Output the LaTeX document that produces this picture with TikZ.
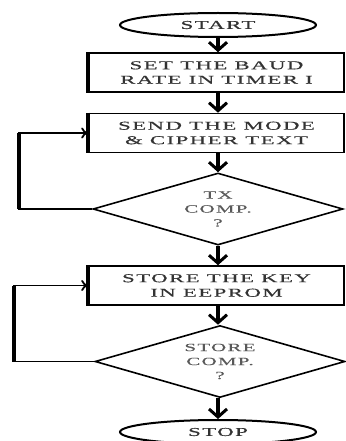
\documentclass[tikz,border=0pt]{standalone}
\usepackage{fontspec}
\setmainfont{Liberation Serif}
\newfontfamily\wfont[FakeStretch=1.9,LetterSpace=12,FakeBold=0.6]{Liberation Serif}
\newfontfamily\dfont[FakeStretch=1.9,LetterSpace=12,FakeBold=0.3]{Liberation Serif}
\usetikzlibrary{shapes.geometric,arrows.meta}
\begin{document}
\begin{tikzpicture}[x=1pt,y=-1pt,
  box/.style={draw,line width=1.6pt,minimum width=255pt,minimum height=39pt,inner sep=0pt,align=center,
    font=\wfont\fontsize{12}{14.5}\selectfont,text=black!80},
  term/.style={draw,ellipse,line width=2pt,minimum width=196pt,minimum height=24pt,inner sep=0pt,
    font=\wfont\fontsize{12}{14}\selectfont,text=black!80},
  decision/.style={draw,diamond,aspect=3.5,line width=1.6pt,minimum width=250pt,minimum height=72pt,
    inner sep=0pt,align=center,font=\dfont\fontsize{11}{14}\selectfont,text=black!65},
  flow/.style={line width=3.5pt,-{Straight Barb[length=8pt,width=18pt,line width=3pt]}},
  back/.style={line width=1.8pt,-{To[length=7pt,width=11pt]}},
  backv/.style={line width=4.5pt},
  edge/.style={line width=4pt}]
\useasboundingbox (0,0) rectangle (345,441);
\node[term] (start) at (218,25) {START};
\node[box] (b1) at (216.5,72.5) {SET THE BAUD\\RATE IN TIMER I};
\node[box] (b2) at (216.5,133) {SEND THE MODE\\\& CIPHER TEXT};
\node[decision] (d1) at (218,209) {TX\\COMP.\\?};
\node[box] (b3) at (216.5,285.5) {STORE THE KEY\\IN EEPROM};
\node[decision] (d2) at (220,361.5) {STORE\\COMP.\\?};
\node[term] (stop) at (218,432) {STOP};
\draw[edge] (b1.north west) -- (b1.south west);
\draw[edge] (b2.north west) -- (b2.south west);
\draw[edge] (b3.north west) -- (b3.south west);
\draw[flow] (start.south) -- (start.south |- b1.north);
\draw[flow] (b1.south -| start.south) -- (b2.north -| start.south);
\draw[flow] (b2.south -| start.south) -- (d1.north);
\draw[flow] (d1.south) -- (b3.north -| d1.south);
\draw[flow] (b3.south -| d1.south) -- (d2.north -| d1.south);
\draw[flow] (d2.south -| stop.north) -- (stop.north);
\coordinate (l1) at ([xshift=-73pt]d1.west);
\coordinate (l2) at ([xshift=-80pt]d2.west);
\draw[back] (d1.west) -- (l1) |- (b2.west);
\draw[backv] (l1) -- (l1 |- b2.west);
\draw[back] (d2.west) -- (l2) |- (b3.west);
\draw[backv] (l2) -- (l2 |- b3.west);
\end{tikzpicture}
\end{document}
